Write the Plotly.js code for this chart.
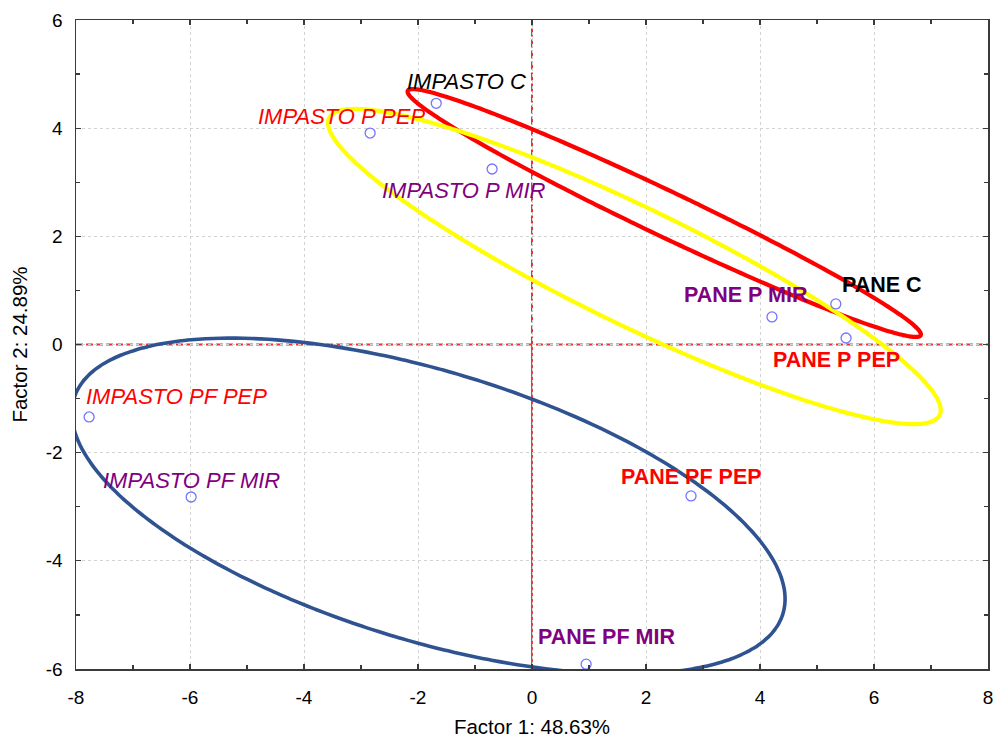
<!DOCTYPE html>
<html>
<head>
<meta charset="utf-8">
<script src="https://cdn.plot.ly/plotly-3.0.1.min.js"></script>
<style>html,body{margin:0;padding:0;background:#fff;}#chart{width:995px;height:740px;}</style>
</head>
<body>
<div id="chart"></div>
<script>
// ---- data ----
var labels = ["IMPASTO C", "IMPASTO P PEP", "IMPASTO P MIR", "PANE C", "PANE P MIR", "PANE P PEP",
              "IMPASTO PF PEP", "IMPASTO PF MIR", "PANE PF PEP", "PANE PF MIR"];
var factor1 = [-1.68, -2.84, -0.70, 5.33, 4.21, 5.51, -7.77, -5.98, 2.79, 0.95];
var factor2 = [4.46, 3.91, 3.245, 0.75, 0.51, 0.12, -1.34, -2.82, -2.80, -5.91];
var labelColors = ["#000000", "#ff0000", "#800080", "#000000", "#800080", "#ff0000",
                   "#ff0000", "#800080", "#ff0000", "#800080"];
var labelStyle = ["italic", "italic", "italic", "bold", "bold", "bold", "italic", "italic", "bold", "bold"];
var labelDX = [30, -29, -28, 46, -26, -10, 87, 0, 0, 20];
var labelDY = [22, 17, -21, 19, 22, -22, 20, 17, 19, 27];

// ellipses: centre and conjugate half-axis vectors, in factor units
var ellipseNames = ["C", "P", "PF"];
var ellipseColors = ["#ff0000", "#ffff00", "#2f5391"];
var ellipseCX = [2.320, 1.796, -1.816];
var ellipseCY = [2.431, 1.442, -2.987];
var ellipseUX = [4.500, 5.356, 6.218];
var ellipseUY = [-2.260, -2.746, -1.991];
var ellipseVX = [-0.170, -0.450, -0.687];
var ellipseVY = [-0.376, -0.974, -2.383];
var ellipseWidth = [4.2, 4.2, 3.6];

var xTicks = [-8, -6, -4, -2, 0, 2, 4, 6, 8];
var yTicks = [-6, -4, -2, 0, 2, 4, 6];

var FONT = "Liberation Sans, Arial, Helvetica, sans-serif";

var traces = [];
for (var e = 0; e < ellipseNames.length; e++) {
  var ex = [], ey = [];
  var N = 240;
  for (var k = 0; k <= N; k++) {
    var t = 2 * Math.PI * k / N;
    ex.push(ellipseCX[e] + ellipseUX[e] * Math.cos(t) + ellipseVX[e] * Math.sin(t));
    ey.push(ellipseCY[e] + ellipseUY[e] * Math.cos(t) + ellipseVY[e] * Math.sin(t));
  }
  traces.push({x: ex, y: ey, type: "scatter", mode: "lines", name: ellipseNames[e],
    line: {color: ellipseColors[e], width: ellipseWidth[e], shape: "spline"}, hoverinfo: "skip"});
}
traces.push({x: factor1, y: factor2, text: labels, type: "scatter", mode: "markers", name: "cases",
  marker: {symbol: "circle-open", size: 10, color: "#7474ff", line: {width: 1.3, color: "#7474ff"}}});

var annotations = labels.map(function (s, i) {
  var bold = labelStyle[i] === "bold";
  var txt = bold ? "<b>" + s + "</b>" : "<i>" + s + "</i>";
  return {x: factor1[i], y: factor2[i], xref: "x", yref: "y", text: txt, showarrow: false,
    xshift: labelDX[i], yshift: labelDY[i], xanchor: "center", yanchor: "middle",
    font: {family: FONT, size: bold ? 21.5 : 22, color: labelColors[i]}};
});

var shapes = [
  {type: "line", xref: "paper", yref: "y", x0: 0, x1: 1, y0: 0, y1: 0, line: {color: "#ff2a2a", width: 2, dash: "7px,3px"}, layer: "between"},
  {type: "line", xref: "x", yref: "paper", x0: 0, x1: 0, y0: 0.5, y1: 1, line: {color: "#ff2a2a", width: 2, dash: "8px,3px"}, layer: "between"},
  {type: "line", xref: "x", yref: "paper", x0: 0, x1: 0, y0: 0, y1: 0.5, line: {color: "#ff2020", width: 1.8}, layer: "between"}
];

var axisCommon = {
  showline: true, linecolor: "#3a3a3a", linewidth: 1.5, mirror: "ticks",
  ticks: "inside", ticklen: 5, tickwidth: 1.2, tickcolor: "#3a3a3a",
  showgrid: true, gridcolor: "#d2d2d2", griddash: "dot", gridwidth: 1,
  zeroline: false, tickfont: {family: FONT, size: 19, color: "#000"},
  minor: {ticks: "inside", ticklen: 4, tickcolor: "#3a3a3a", showgrid: false}
};

var layout = {
  width: 995, height: 740,
  margin: {l: 76, r: 7, t: 20, b: 71, pad: 0},
  paper_bgcolor: "#ffffff", plot_bgcolor: "#ffffff",
  showlegend: false,
  font: {family: FONT, color: "#000"},
  xaxis: Object.assign({}, axisCommon, {
    range: [-8, 8], tickvals: xTicks, ticktext: xTicks.map(String),
    minor: Object.assign({}, axisCommon.minor, {dtick: 1, tick0: 0}),
    ticklabelstandoff: 11,
    title: {text: "Factor 1: 48.63%", font: {family: FONT, size: 20.5, color: "#000"}, standoff: 12}
  }),
  yaxis: Object.assign({}, axisCommon, {
    range: [-6, 6], tickvals: yTicks, ticktext: yTicks.map(String),
    minor: Object.assign({}, axisCommon.minor, {dtick: 1, tick0: 0}),
    ticklabelstandoff: 8,
    title: {text: "Factor 2: 24.89%", font: {family: FONT, size: 20.5, color: "#000"}, standoff: 12}
  }),
  shapes: shapes,
  annotations: annotations
};

Plotly.newPlot("chart", traces, layout, {staticPlot: true, displayModeBar: false});
</script>
</body>
</html>
